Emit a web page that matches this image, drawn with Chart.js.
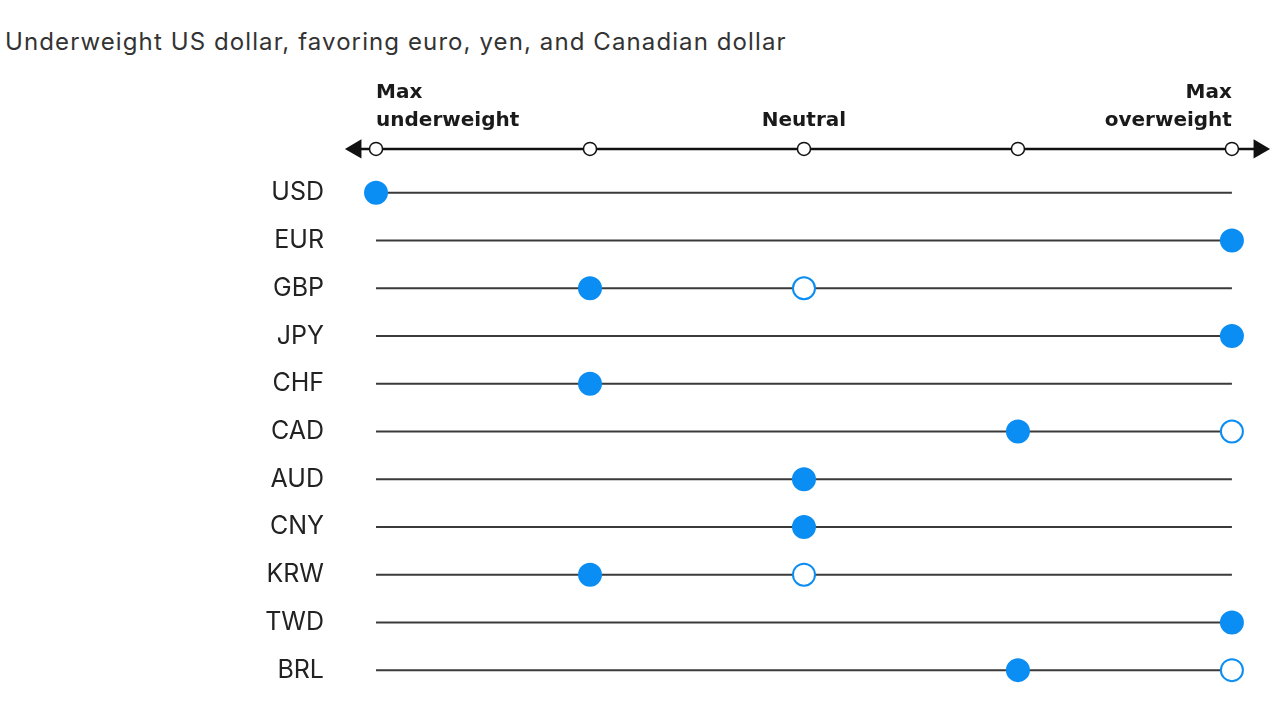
<!DOCTYPE html>
<html>
<head>
<meta charset="utf-8">
<script src="https://cdn.jsdelivr.net/npm/chart.js@4"></script>
<style>
  html, body { margin: 0; padding: 0; background: #fff; }
  #wrap { position: relative; width: 1280px; height: 720px; overflow: hidden; }
  #title { position: absolute; left: 5px; top: 27px; line-height: 30px; font-family: Inter, Roboto, sans-serif; font-size: 24px; letter-spacing: 1.1px; color: #333; white-space: nowrap; }
  canvas { position: absolute; left: 0; top: 0; }
</style>
</head>
<body>
<div id="wrap">
  <div id="title">Underweight US dollar, favoring euro, yen, and Canadian dollar</div>
  <canvas id="c" width="1280" height="720"></canvas>
</div>
<script>
// ---- Data ----
const CURRENCIES = ['USD', 'EUR', 'GBP', 'JPY', 'CHF', 'CAD', 'AUD', 'CNY', 'KRW', 'TWD', 'BRL'];
const CURRENT    = [-2, 2, -1, 2, -1, 1, 0, 0, -1, 2, 1];
const PREVIOUS   = [null, null, 0, null, null, 2, null, null, 0, null, 2];
const SCALE_TICKS  = [-2, -1, 0, 1, 2];
const SCALE_LABELS = [['Max', 'underweight'], '', 'Neutral', '', ['Max', 'overweight']];

// ---- Layout constants ----
const AXIS_ROW = 0.08;
const X_MIN = -2.145, X_MAX = 2.178;          // arrow tips
const ARROW_LEFT = -2.094, ARROW_RIGHT = 2.127; // arrow centres
const BLUE = '#0B8EF3';

const rows = CURRENCIES.map((c, i) => i + 1);

const datasets = [];
datasets.push({
  label: 'Current',
  data: CURRENCIES.map((c, i) => ({ x: CURRENT[i], y: rows[i] })),
  showLine: false, pointRadius: 11, pointBackgroundColor: BLUE, pointBorderColor: BLUE,
  pointBorderWidth: 2, order: 0, clip: false
});
datasets.push({
  label: 'Previous',
  data: CURRENCIES.map((c, i) => PREVIOUS[i] === null ? null : ({ x: PREVIOUS[i], y: rows[i] })).filter(d => d),
  showLine: false, pointRadius: 11, pointBackgroundColor: '#fff', pointBorderColor: BLUE,
  pointBorderWidth: 2, order: 0, clip: false
});
datasets.push({
  label: 'axis ticks',
  data: SCALE_TICKS.map(x => ({ x, y: AXIS_ROW })),
  showLine: false, pointRadius: 6.5, pointBackgroundColor: '#fff', pointBorderColor: '#111',
  pointBorderWidth: 1.5, order: 1, clip: false
});
datasets.push({
  label: 'axis line',
  data: [{ x: ARROW_LEFT, y: AXIS_ROW }, { x: ARROW_RIGHT, y: AXIS_ROW }],
  showLine: true, borderColor: '#111', borderWidth: 2.5,
  pointStyle: 'triangle', pointRotation: [-90, 90], pointRadius: 11,
  pointBackgroundColor: '#111', pointBorderColor: '#111', pointBorderWidth: 0,
  order: 2, clip: false
});
CURRENCIES.forEach((c, i) => {
  datasets.push({
    label: 'rail ' + c,
    data: [{ x: SCALE_TICKS[0], y: rows[i] }, { x: SCALE_TICKS[SCALE_TICKS.length - 1], y: rows[i] }],
    showLine: true, borderColor: '#3a3a3a', borderWidth: 2, pointRadius: 0,
    order: 3, clip: false
  });
});

new Chart(document.getElementById('c'), {
  type: 'scatter',
  data: { datasets },
  options: {
    responsive: false,
    animation: false,
    events: [],
    devicePixelRatio: 1,
    layout: { autoPadding: false, padding: { top: 78, right: 10, bottom: 26, left: 0 } },
    elements: { line: { tension: 0 } },
    plugins: { legend: { display: false }, title: { display: false }, tooltip: { enabled: false } },
    scales: {
      x: {
        type: 'linear', position: 'top', min: X_MIN, max: X_MAX,
        grid: { display: false, drawTicks: false }, border: { display: false },
        afterBuildTicks: s => { s.ticks = SCALE_TICKS.map(v => ({ value: v })); },
        afterFit: s => { s.paddingLeft = 0; s.paddingRight = 0; },
        ticks: {
          align: 'inner', maxRotation: 0, minRotation: 0, autoSkip: false, padding: 1,
          color: '#1a1a1a',
          font: { family: '"DejaVu Sans", Inter, sans-serif', size: 20, weight: 'bold', lineHeight: 1.4 },
          callback: v => SCALE_LABELS[SCALE_TICKS.indexOf(v)]
        }
      },
      y: {
        type: 'linear', reverse: true, min: -0.19, max: 11.5,
        grid: { display: false, drawTicks: false }, border: { display: false },
        afterBuildTicks: s => { s.ticks = rows.map(v => ({ value: v })); },
        afterFit: s => { s.width = 345; s.paddingTop = 0; s.paddingBottom = 0; },
        ticks: {
          padding: 21, autoSkip: false, color: '#222',
          font: { family: 'Inter, Roboto, sans-serif', size: 25 },
          callback: v => CURRENCIES[v - 1]
        }
      }
    }
  }
});
</script>
</body>
</html>
